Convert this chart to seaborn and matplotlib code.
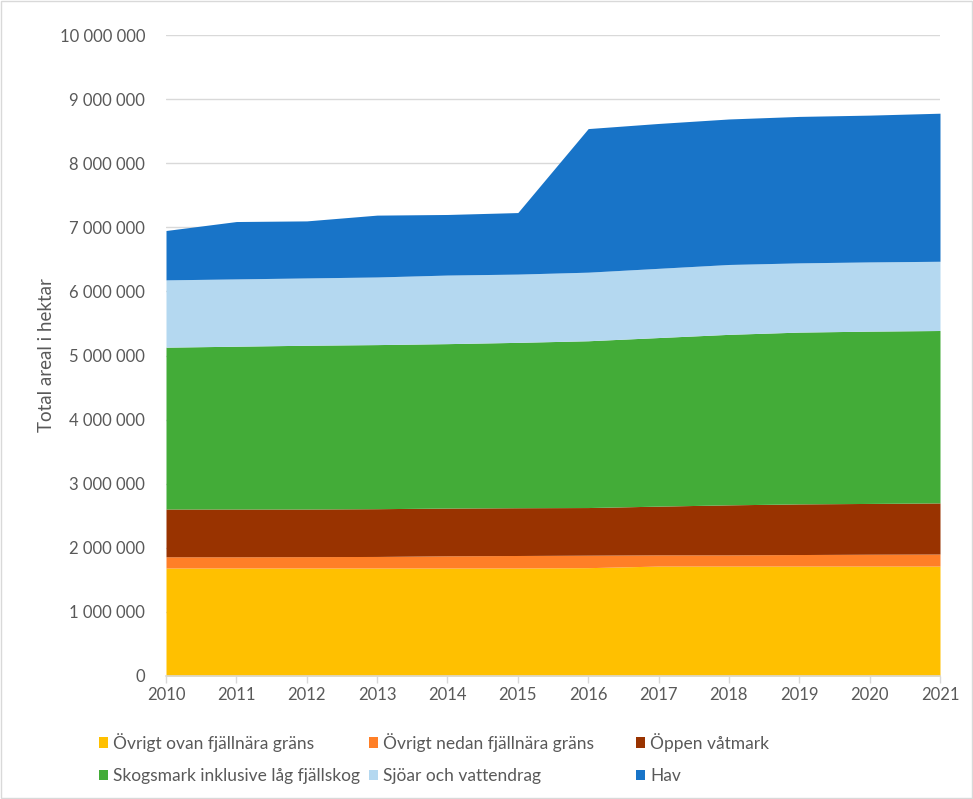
import matplotlib
matplotlib.use("Agg")
import matplotlib.pyplot as plt
from matplotlib.ticker import FuncFormatter, MultipleLocator
from matplotlib.patches import Rectangle, Patch
import seaborn as sns
import pandas as pd

years = [2010, 2011, 2012, 2013, 2014, 2015, 2016, 2017, 2018, 2019, 2020, 2021]
categories = ["Övrigt ovan fjällnära gräns", "Övrigt nedan fjällnära gräns", "Öppen våtmark",
              "Skogsmark inklusive låg fjällskog", "Sjöar och vattendrag", "Hav"]
ovrigt_ovan = [1685000, 1685000, 1685000, 1685000, 1685000, 1685000, 1690000, 1715000, 1715000, 1715000, 1715000, 1715000]
ovrigt_nedan = [175000, 175000, 177000, 180000, 190000, 195000, 195000, 175000, 175000, 180000, 185000, 188000]
oppen_vatmark = [745000, 745000, 743000, 745000, 745000, 745000, 743000, 760000, 780000, 790000, 792000, 797000]
skogsmark = [2525000, 2540000, 2555000, 2560000, 2565000, 2580000, 2602000, 2630000, 2660000, 2680000, 2688000, 2690000]
sjoar = [1050000, 1050000, 1050000, 1055000, 1070000, 1065000, 1070000, 1080000, 1090000, 1080000, 1080000, 1080000]
hav = [770000, 895000, 890000, 965000, 945000, 960000, 2240000, 2260000, 2270000, 2285000, 2290000, 2310000]
colors = ["#FFC000", "#FF7F27", "#993300", "#43AC38", "#B4D8F0", "#1874C8"]

df = pd.DataFrame({"year": years, categories[0]: ovrigt_ovan, categories[1]: ovrigt_nedan,
                   categories[2]: oppen_vatmark, categories[3]: skogsmark,
                   categories[4]: sjoar, categories[5]: hav})

sns.set_theme(style="white")
plt.rcParams["font.family"] = ["Lato", "DejaVu Sans"]
txt = "#595959"
grid = "#D9D9D9"

fig = plt.figure(figsize=(9.73, 7.99), dpi=100)
ax = fig.add_axes([166/973, 1-676/799, 774/973, 641/799])

ax.stackplot(df["year"], [df[c] for c in categories], colors=colors, labels=categories,
             linewidth=0, zorder=2)

ax.set_xlim(2010, 2021)
ax.set_ylim(0, 10000000)
ax.yaxis.set_major_locator(MultipleLocator(1000000))
ax.yaxis.set_major_formatter(FuncFormatter(lambda v, p: f"{int(v):,}".replace(",", " ")))
ax.set_xticks(years)
ax.grid(axis="y", color=grid, linewidth=1, zorder=0)
ax.set_axisbelow(True)
for s in ["top", "right", "left"]:
    ax.spines[s].set_visible(False)
ax.spines["bottom"].set_color(grid)
ax.spines["bottom"].set_linewidth(1.2)
ax.tick_params(axis="x", colors=txt, labelsize=12, length=5, width=1, direction="out",
               color=grid, pad=3, bottom=True)
ax.tick_params(axis="y", colors=txt, labelsize=12, length=0, pad=15)
for lab in ax.get_xticklabels() + ax.get_yticklabels():
    lab.set_color(txt)
ax.set_ylabel("Total areal i hektar", color=txt, fontsize=13.5)
ax.yaxis.set_label_coords(-0.143, 0.5)

handles = [Patch(facecolor=c, edgecolor="none") for c in colors]
col_x = [90, 360, 627]
for j, x0 in enumerate(col_x):
    idx = [j, j + 3]
    fig.legend([handles[i] for i in idx], [categories[i] for i in idx],
               ncol=1, loc="upper left", bbox_to_anchor=(x0/973, 1-724/799),
               frameon=False, fontsize=12.5, labelcolor=txt,
               handlelength=0.55, handleheight=0.55, handletextpad=0.3,
               labelspacing=0.95, borderpad=0.0)

fig.patches.append(Rectangle((0.001, 0.001), 0.998, 0.998, transform=fig.transFigure,
                             fill=False, edgecolor=grid, linewidth=1))

fig.savefig("out.png", dpi=100)
